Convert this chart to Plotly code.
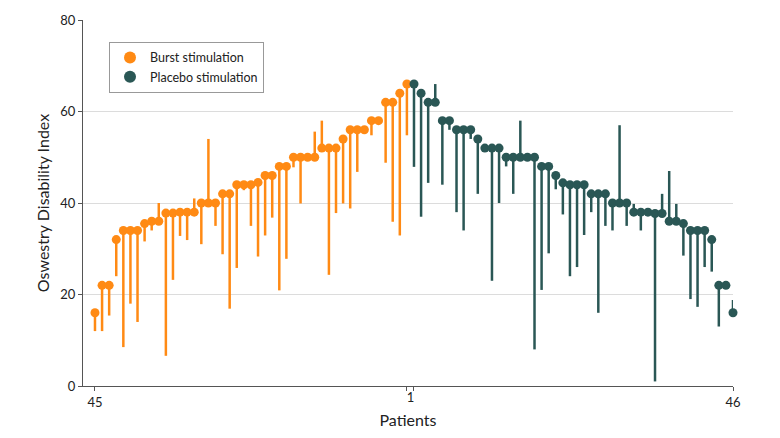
import plotly.graph_objects as go

burst_baseline = [16, 22, 22, 32, 34, 34, 34, 35.5, 36, 36, 37.8, 37.8, 38, 38, 38,
                  40, 40, 40, 42, 42, 44, 44, 44, 44.5, 46, 46, 48, 48, 50, 50,
                  50, 50, 52, 52, 52, 54, 56, 56, 56, 58, 58, 62, 62, 64, 66]
burst_end = [12, 12, 15.4, 24, 8.5, 18, 14, 31.6, 34, 40, 6.6, 23.2, 32.8, 31.9, 41,
             31, 54, 35, 28.8, 16.9, 25.8, 42.8, 35, 28.3, 32.9, 36.8, 20.9, 27.8, 47.8, 39.9,
             50, 55.6, 58, 24.3, 37.8, 39.9, 38.8, 46.8, 56, 54.8, 58, 48.8, 35.9, 32.9, 54.8]

placebo_baseline = [66, 64, 62, 62, 58, 58, 56, 56, 56, 54, 52, 52, 52, 50, 50, 50,
                    50, 50, 48, 48, 46, 44.4, 44, 44, 44, 42, 42, 42, 40, 40, 40,
                    38, 38, 38, 37.7, 37.7, 36, 36, 35.5, 34, 34, 34, 32, 22, 22, 16]
placebo_end = [47.9, 37, 44.4, 66, 44, 56, 38, 34, 54, 42, 52, 23, 40, 48, 42, 58,
               50, 8, 21, 29, 43, 37.5, 24, 26, 33, 38, 16, 35, 34, 57, 35,
               39.8, 34, 38, 1, 42, 47, 39.8, 28.5, 19, 17.3, 26, 25, 13, 22, 18.8]

x_ticktext = ["45", "", "", "46"]
x_mid_label = ["1"]

ORANGE = "#FF8A14"
TEAL = "#2A5755"
FONT = "Lato"

nb = len(burst_baseline)
np_ = len(placebo_baseline)
burst_x = list(range(nb))
placebo_x = list(range(nb, nb + np_))
xrange_ = [-1.69, nb + np_ - 1]


def segs(xs, a, b):
    sx, sy = [], []
    for x, y0, y1 in zip(xs, a, b):
        sx += [x, x, None]
        sy += [y0, y1, None]
    return sx, sy


fig = go.Figure()
for xs, a, b, col in [(burst_x, burst_baseline, burst_end, ORANGE),
                      (placebo_x, placebo_baseline, placebo_end, TEAL)]:
    sx, sy = segs(xs, a, b)
    fig.add_trace(go.Scatter(x=sx, y=sy, mode="lines", line=dict(color=col, width=2.5),
                             showlegend=False, hoverinfo="skip", cliponaxis=False))
for xs, a, col, name in [(burst_x, burst_baseline, ORANGE, "Burst stimulation"),
                         (placebo_x, placebo_baseline, TEAL, "Placebo stimulation")]:
    fig.add_trace(go.Scatter(x=xs, y=a, mode="markers", name=name,
                             marker=dict(color=col, size=9), cliponaxis=False))
# invisible trace for the shared "1" label axis
fig.add_trace(go.Scatter(x=[None], y=[None], xaxis="x2", showlegend=False, hoverinfo="skip"))

fig.update_layout(
    width=780, height=438,
    margin=dict(l=75, r=55, t=12, b=60, autoexpand=False),
    plot_bgcolor="white", paper_bgcolor="white",
    font=dict(family=FONT, size=13, color="#222"),
    showlegend=True,
    legend=dict(x=0.04, y=0.94, xanchor="left", yanchor="top",
                bordercolor="#999", borderwidth=1, bgcolor="white",
                font=dict(size=12.5), itemsizing="constant", tracegroupgap=0),
    xaxis=dict(range=xrange_, tickvals=[0, nb - 1, nb, nb + np_ - 1], ticktext=x_ticktext,
               ticks="outside", ticklen=4, tickcolor="#555", showgrid=False, zeroline=False,
               showline=True, linecolor="#555", linewidth=1, automargin=False,
               title=dict(text="Patients", standoff=6)),
    xaxis2=dict(range=xrange_, overlaying="x", side="bottom", tickvals=[nb - 0.5],
                ticktext=x_mid_label, ticks="", showgrid=False, zeroline=False,
                showline=False, automargin=False, ticklabelstandoff=2),
    yaxis=dict(range=[0, 80], tickvals=[0, 20, 40, 60, 80], ticks="outside", ticklen=4,
               tickcolor="#555", showgrid=True, gridcolor="#dcdcdc", zeroline=False,
               showline=True, linecolor="#555", linewidth=1, automargin=False,
               title=dict(text="Oswestry Disability Index", standoff=6)),
)
fig.write_html("out.html")
